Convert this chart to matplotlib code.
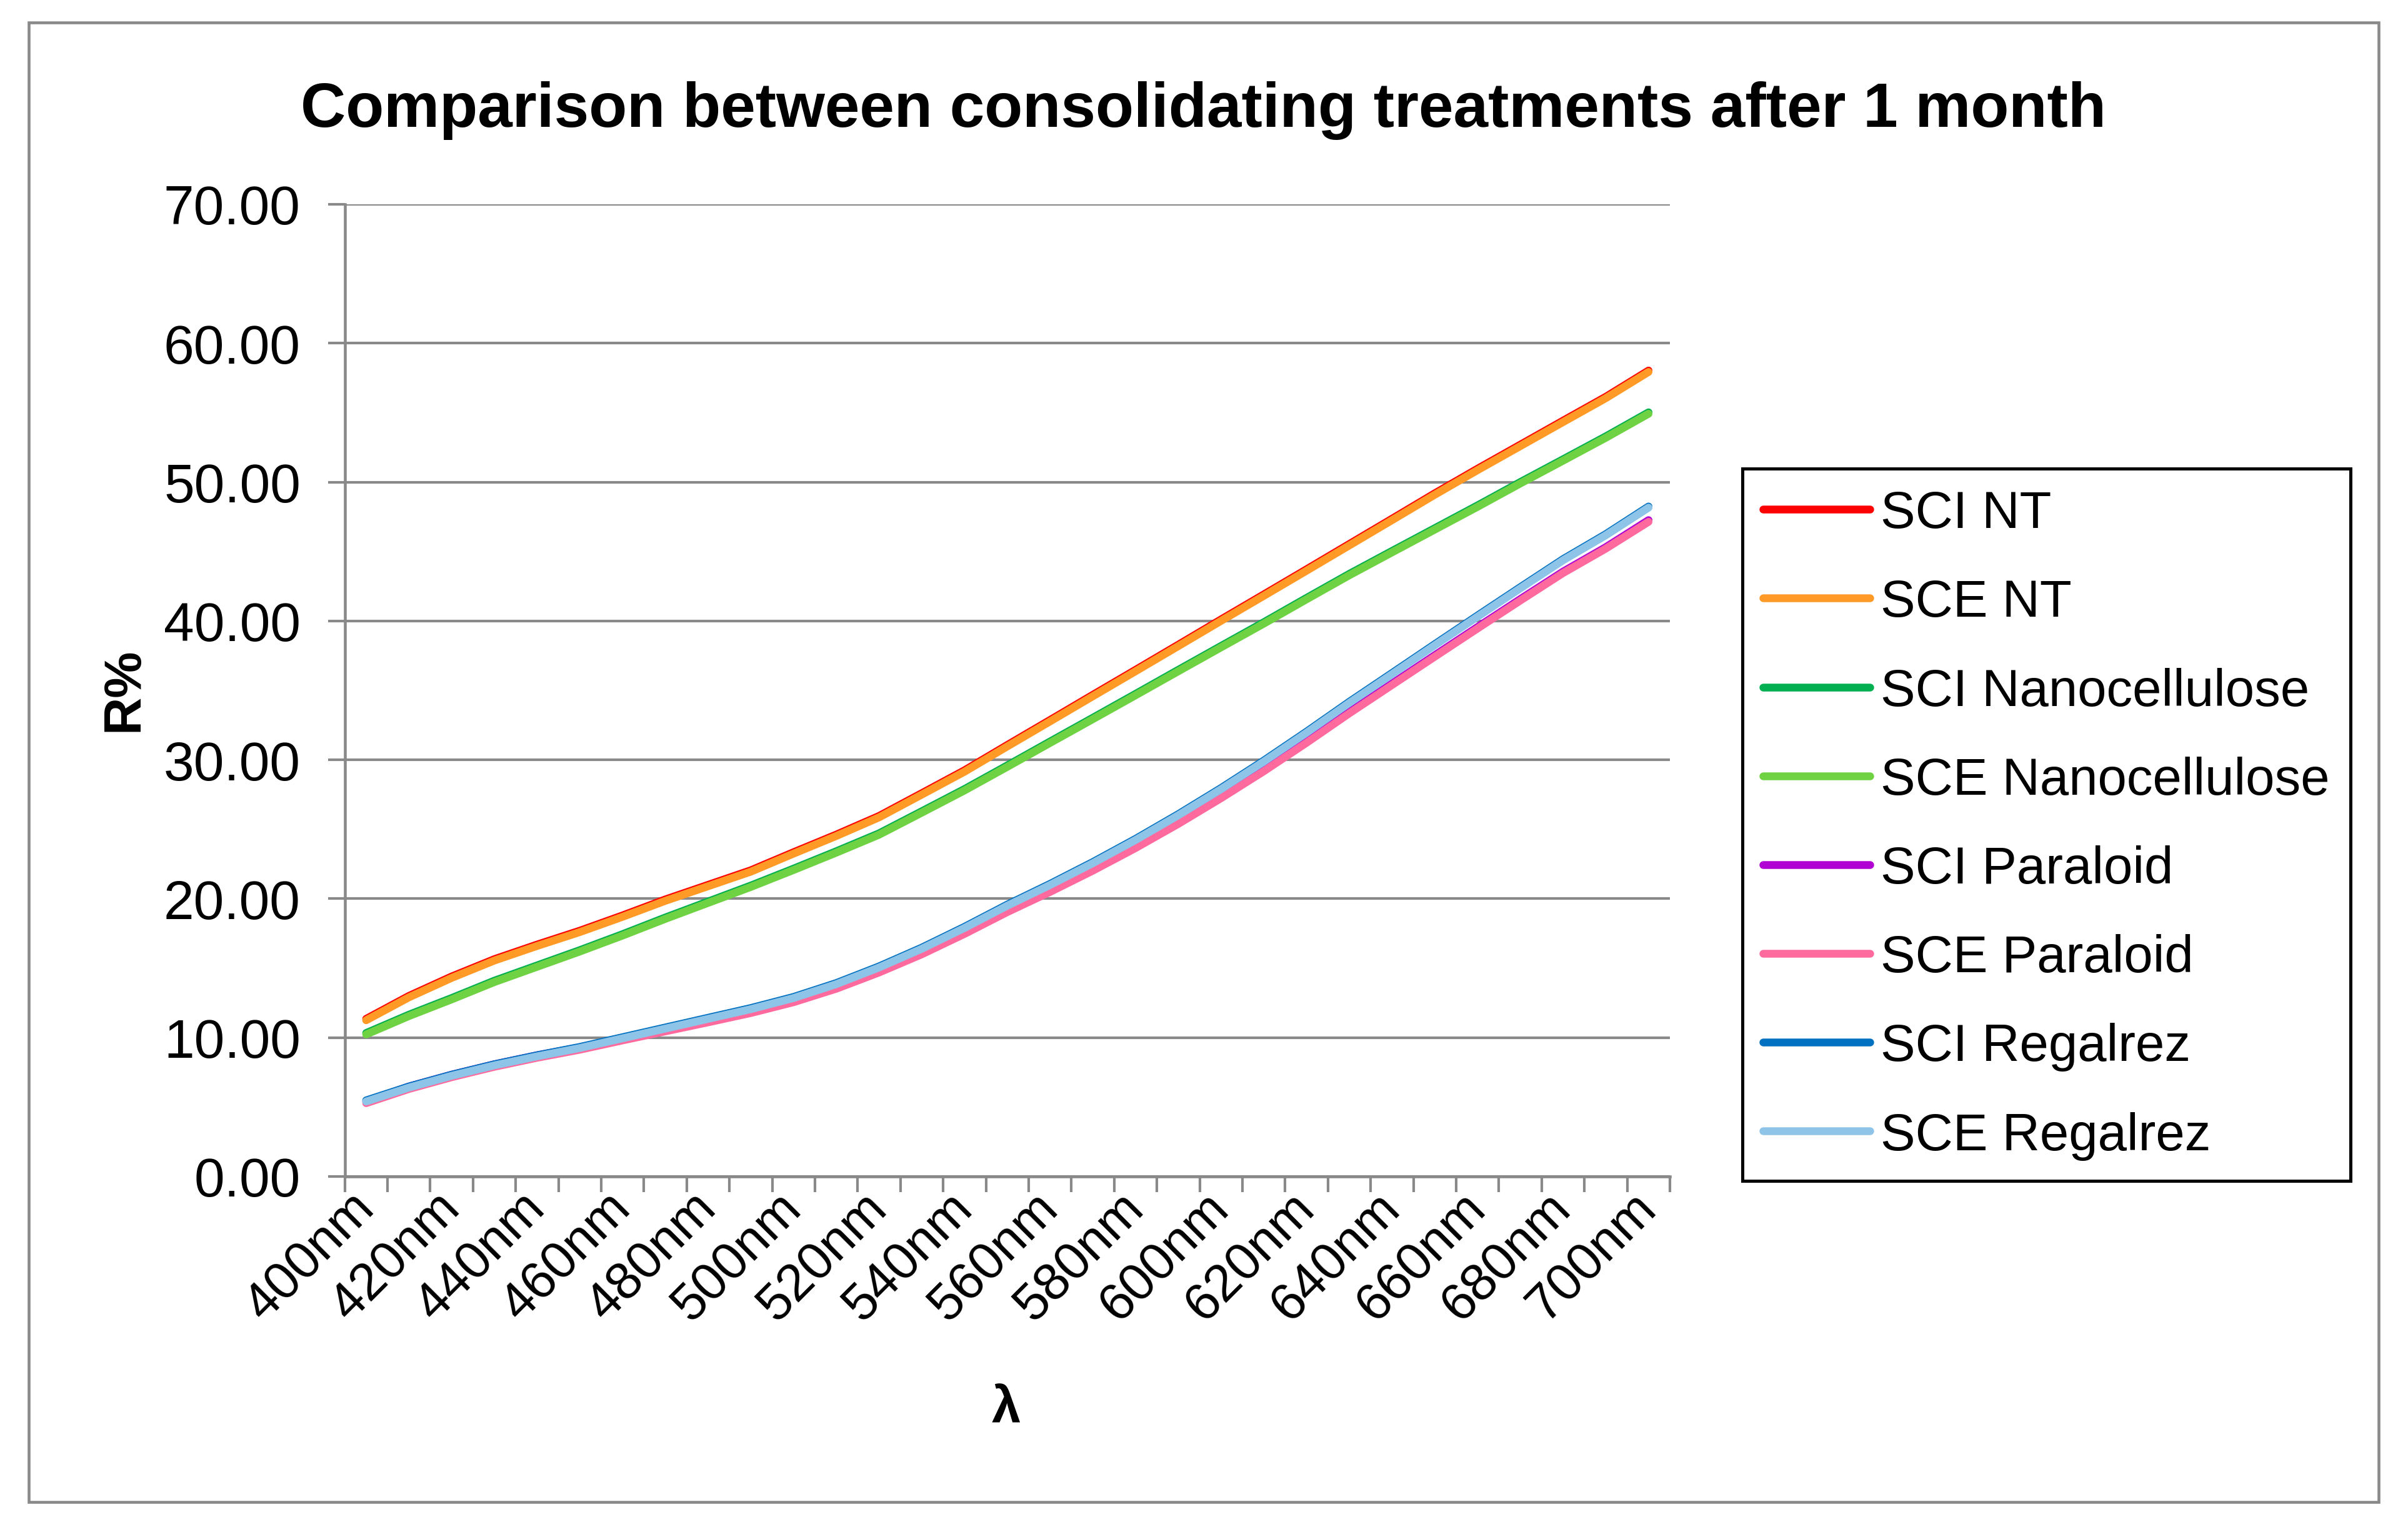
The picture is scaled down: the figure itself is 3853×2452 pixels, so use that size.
import matplotlib
matplotlib.use("Agg")
import matplotlib.pyplot as plt
from matplotlib.patches import Rectangle

plt.rcParams['font.family'] = ['Liberation Sans', 'DejaVu Sans']

wavelengths = [400, 410, 420, 430, 440, 450, 460, 470, 480, 490, 500, 510, 520, 530, 540, 550,
               560, 570, 580, 590, 600, 610, 620, 630, 640, 650, 660, 670, 680, 690, 700]

sci_nt = [11.35, 13.00, 14.40, 15.65, 16.70, 17.70, 18.80, 19.95, 21.00, 22.05, 23.35, 24.62, 25.96, 27.60, 29.25, 31.07,
          32.87, 34.68, 36.48, 38.29, 40.11, 41.91, 43.72, 45.54, 47.36, 49.19, 50.96, 52.69, 54.42, 56.14, 58.03]
sce_nt = [11.25, 12.90, 14.30, 15.55, 16.60, 17.60, 18.70, 19.85, 20.90, 21.95, 23.25, 24.52, 25.86, 27.50, 29.15, 30.97,
          32.77, 34.58, 36.38, 38.19, 40.01, 41.81, 43.62, 45.44, 47.26, 49.09, 50.86, 52.59, 54.32, 56.04, 57.93]
sci_nano = [10.33, 11.65, 12.85, 14.10, 15.20, 16.30, 17.45, 18.65, 19.80, 20.95, 22.17, 23.42, 24.71, 26.30, 27.90, 29.60,
            31.32, 33.03, 34.75, 36.48, 38.20, 39.91, 41.66, 43.39, 45.04, 46.68, 48.32, 50.00, 51.64, 53.29, 55.02]
sce_nano = [10.23, 11.55, 12.75, 14.00, 15.10, 16.20, 17.35, 18.55, 19.70, 20.85, 22.07, 23.32, 24.61, 26.20, 27.80, 29.50,
            31.22, 32.93, 34.65, 36.38, 38.10, 39.81, 41.56, 43.29, 44.94, 46.58, 48.22, 49.90, 51.54, 53.19, 54.92]
sci_par = [5.40, 6.48, 7.33, 8.08, 8.73, 9.30, 9.95, 10.60, 11.20, 11.87, 12.65, 13.62, 14.79, 16.10, 17.57, 19.14,
           20.59, 22.12, 23.75, 25.49, 27.34, 29.28, 31.33, 33.45, 35.49, 37.53, 39.56, 41.57, 43.55, 45.31, 47.26]
sce_par = [5.28, 6.30, 7.15, 7.90, 8.55, 9.13, 9.80, 10.45, 11.10, 11.77, 12.55, 13.52, 14.69, 16.00, 17.47, 19.04,
           20.49, 22.02, 23.65, 25.39, 27.24, 29.18, 31.23, 33.35, 35.39, 37.43, 39.46, 41.47, 43.45, 45.21, 47.14]
sci_reg = [5.48, 6.48, 7.33, 8.08, 8.73, 9.33, 10.03, 10.73, 11.43, 12.13, 12.93, 13.93, 15.13, 16.48, 17.98, 19.58,
           21.07, 22.64, 24.31, 26.09, 27.97, 29.95, 32.03, 34.18, 36.25, 38.33, 40.39, 42.43, 44.45, 46.25, 48.24]
sce_reg = [5.40, 6.40, 7.25, 8.00, 8.65, 9.25, 9.95, 10.65, 11.35, 12.05, 12.85, 13.85, 15.05, 16.40, 17.90, 19.50,
           20.99, 22.56, 24.23, 26.01, 27.89, 29.87, 31.95, 34.10, 36.17, 38.25, 40.31, 42.35, 44.37, 46.17, 48.16]

series = [
    ("SCI NT", sci_nt, "#ff0000"),
    ("SCE NT", sce_nt, "#ff9a26"),
    ("SCI Nanocellulose", sci_nano, "#00b050"),
    ("SCE Nanocellulose", sce_nano, "#6fd242"),
    ("SCI Paraloid", sci_par, "#b000d4"),
    ("SCE Paraloid", sce_par, "#ff6a9e"),
    ("SCI Regalrez", sci_reg, "#0070c0"),
    ("SCE Regalrez", sce_reg, "#8ec4e8"),
]

W, H = 3853, 2453
fig = plt.figure(figsize=(W / 300, H / 300), dpi=300)
ax = fig.add_axes([551.7 / W, 1 - 1884 / H, (2672 - 551.7) / W, (1884 - 328) / H])

x = list(range(len(wavelengths)))
for name, vals, col in series:
    ax.plot(x, vals, color=col, lw=3.0, label=name, solid_capstyle='round', solid_joinstyle='round')

grey = "#898989"
ax.set_xlim(-0.5, len(wavelengths) - 0.5)
ax.set_ylim(0, 70)
ax.set_yticks(range(0, 71, 10))
ax.set_yticklabels([f"{v:.2f}" for v in range(0, 71, 10)])
ax.yaxis.grid(True, color=grey, lw=1.0)
ax.set_axisbelow(True)

ax.set_xticks(x[::2])
ax.set_xticklabels([f"{w}nm" for w in wavelengths[::2]], rotation=45, ha='right',
                   va='center', rotation_mode='anchor')
ax.set_xticks([i - 0.5 for i in range(len(wavelengths) + 1)], minor=True)

for s in ['top', 'right']:
    ax.spines[s].set_visible(False)
for s in ['left', 'bottom']:
    ax.spines[s].set_color(grey)
    ax.spines[s].set_linewidth(1.1)

ax.tick_params(axis='y', length=6.5, width=1.0, color=grey, pad=10.5, labelsize=21)
ax.tick_params(axis='x', which='major', length=0, pad=9, labelsize=20)
ax.tick_params(axis='x', which='minor', length=6, width=1.0, color=grey)

fig.text(0.4997, 1 - 202.7 / H, "Comparison between consolidating treatments after 1 month",
         ha='center', va='baseline', fontsize=24, fontweight='bold')
fig.text(198.8 / W, 1 - 1104 / H, "R%", rotation=90, ha='center', va='center',
         fontsize=20, fontweight='bold')
fig.text(1610 / W, 1 - 2255 / H, "λ", ha='center', va='center', fontsize=20, fontweight='bold')

leg = ax.legend(loc='upper left', bbox_to_anchor=(2788 / W, 1 - 751 / H), bbox_transform=fig.transFigure,
                borderaxespad=0, fontsize=20, frameon=True, fancybox=False, framealpha=1,
                handlelength=2.05, handletextpad=0.2, labelspacing=0.77, borderpad=0.4)
leg.get_frame().set_edgecolor('black')
leg.get_frame().set_linewidth(1.2)

fig.patches.append(Rectangle((46 / W, 1 - 2405 / H), (3806 - 46) / W, (2405 - 37) / H,
                             transform=fig.transFigure, fill=False, edgecolor=grey, lw=1.1))

fig.savefig("out.png", dpi=300)
